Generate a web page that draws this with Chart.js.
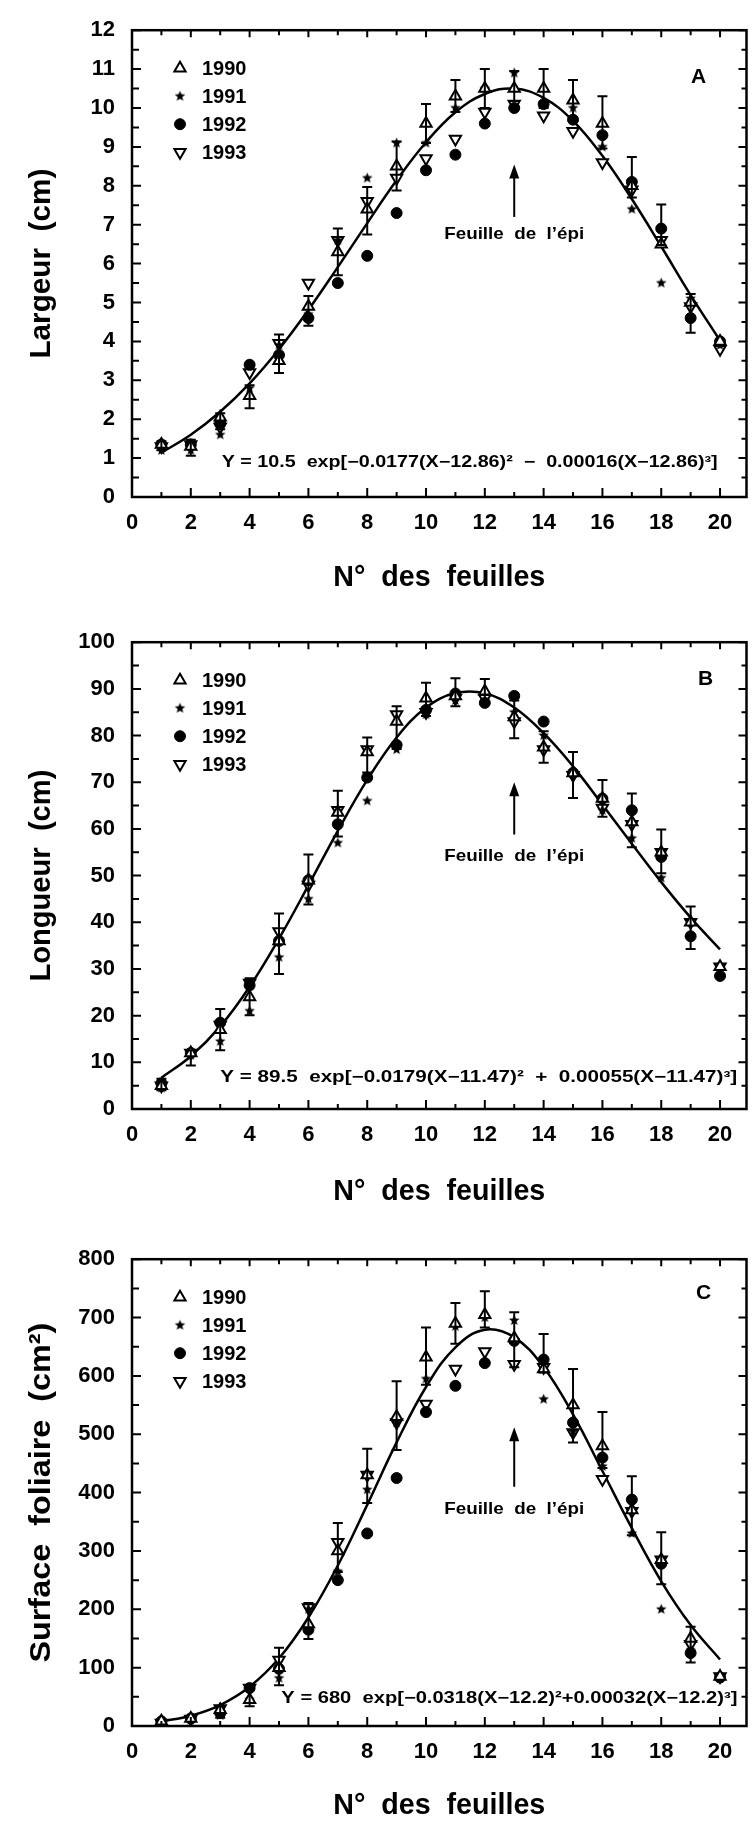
<!DOCTYPE html>
<html lang="fr">
<head>
<meta charset="utf-8">
<title>Largeur, longueur et surface des feuilles</title>
<script src="https://cdn.jsdelivr.net/npm/chart.js@4.4.1/dist/chart.umd.min.js"></script>
<style>
  html, body { margin: 0; padding: 0; background: #fff; }
  .panneau { position: absolute; left: 0; width: 755px; height: 602px; }
</style>
</head>
<body>
<div class="panneau" style="top:0px"><canvas id="grapheA"></canvas></div>
<div class="panneau" style="top:612px"><canvas id="grapheB"></canvas></div>
<div class="panneau" style="top:1229px"><canvas id="grapheC"></canvas></div>
<script>
const police = "'Liberation Sans', Arial, Helvetica, sans-serif";

// ================== Axe commun ==================
const feuilles = [1, 2, 3, 4, 5, 6, 7, 8, 9, 10, 11, 12, 13, 14, 15, 16, 17, 18, 19, 20];
const xTicks = [0, 2, 4, 6, 8, 10, 12, 14, 16, 18, 20];
const xMineurs = [1, 3, 5, 7, 9, 11, 13, 15, 17, 19];

// ================== A : largeur ==================
const largeurTicks = [0, 1, 2, 3, 4, 5, 6, 7, 8, 9, 10, 11, 12];
const largeurMineurs = [0.5, 1.5, 2.5, 3.5, 4.5, 5.5, 6.5, 7.5, 8.5, 9.5, 10.5, 11.5];
const largeur1990 = [1.35, 1.3, 2.05, 2.6, 3.5, 4.9, 6.3, 7.4, 8.5, 9.6, 10.3, 10.5, 10.5, 10.5, 10.2, 9.6, 8.0, 6.5, 5.0, 4.0];
const largeur1991 = [1.2, 1.2, 1.6, 2.8, 3.9, 4.7, 6.6, 8.2, 9.1, 9.1, 10.0, 10.5, 10.9, 10.1, 10.0, 9.0, 7.4, 5.5, 5.1, 3.9];
const largeur1992 = [1.35, 1.35, 1.9, 3.4, 3.65, 4.6, 5.5, 6.2, 7.3, 8.4, 8.8, 9.6, 10.0, 10.1, 9.7, 9.3, 8.1, 6.9, 4.6, 4.0];
const largeur1993 = [1.3, 1.35, 1.8, 3.2, 3.95, 5.5, 6.6, 7.6, 8.2, 8.7, 9.2, 9.9, 10.1, 9.8, 9.4, 8.6, 7.9, 6.6, 4.9, 3.8];
const largeurErrBas = [1.2, 1.06, 1.74, 2.28, 3.19, 4.4, 5.7, 6.75, 7.88, 9.1, 9.9, 10.0, 10.18, 10.0, 9.64, 8.96, 7.7, 6.48, 4.22, null];
const largeurErrHaut = [1.43, 1.47, 2.15, 2.87, 4.18, 5.17, 6.9, 7.97, 9.14, 10.1, 10.72, 11.0, 10.95, 11.0, 10.72, 10.3, 8.74, 7.52, 5.22, null];
const largeurCourbe = [1.14, 1.6, 2.19, 2.92, 3.8, 4.81, 5.91, 7.04, 8.14, 9.12, 9.89, 10.36, 10.5, 10.26, 9.67, 8.77, 7.66, 6.44, 5.19, 4.02];

// ================== B : longueur ==================
const longueurTicks = [0, 10, 20, 30, 40, 50, 60, 70, 80, 90, 100];
const longueurMineurs = [5, 15, 25, 35, 45, 55, 65, 75, 85, 95];
const longueur1990 = [5, 12, 17, 24, 36, 49, 63.5, 76.5, 83, 88, 88.5, 89.5, 84, 77.5, 72, 66.5, 61.5, 55, 40, 30.5];
const longueur1991 = [4.5, 11.5, 14.5, 21, 32.5, 45, 57, 66, 77, 84.5, 87.5, 87, 85, 80, 72, 64, 58, 49.5, 40, 30.5];
const longueur1992 = [5.5, 12, 18.5, 26.5, 36, 49, 61, 71, 78, 85.5, 89, 87, 88.5, 83, 72, 66.5, 64, 54, 37, 28.5];
const longueur1993 = [5, 12, 18, 27, 38, 48, 64, 77, 84.5, 85, 88, 88, 83, 77, 71.5, 64.5, 61, 55, 40, 30.5];
const longueurErrBas = [4, 9.3, 12.6, 20.1, 28.9, 43.8, 58.4, 72.1, 77.1, 84.2, 86.3, 87.1, 79.4, 74.2, 66.6, 62.6, 56.1, 50.5, 34.3, null];
const longueurErrHaut = [6.5, 12.6, 21.4, 28, 41.9, 54.5, 68.2, 79.6, 86.3, 91.3, 92.3, 92.1, 87.5, 80.9, 76.5, 70.5, 67.6, 59.9, 43.4, null];
const longueurCourbe = [6.7, 11.3, 17.7, 26.2, 36.5, 47.9, 59.6, 70.5, 79.6, 86.0, 89.1, 89.05, 86.0, 80.5, 73.4, 65.2, 56.8, 48.6, 41.0, 34.2];

// ================== C : surface foliaire ==================
const surfaceTicks = [0, 100, 200, 300, 400, 500, 600, 700, 800];
const surfaceMineurs = [50, 150, 250, 350, 450, 550, 650, 750];
const surface1990 = [8, 13, 28, 45, 100, 175, 300, 430, 530, 632, 690, 705, 665, 612, 550, 480, 370, 285, 150, 85];
const surface1991 = [6, 10, 18, 45, 82, 200, 265, 405, 520, 595, 685, 700, 695, 560, 505, 445, 330, 200, 130, 87];
const surface1992 = [8, 13, 22, 65, 98, 165, 250, 330, 425, 538, 583, 622, 660, 628, 520, 460, 388, 278, 125, 83];
const surface1993 = [5, 12, 30, 65, 113, 203, 315, 430, 520, 552, 612, 642, 620, 615, 503, 423, 368, 285, 140, 85];
const surfaceErrBas = [null, null, 14, 34, 70, 149, 264, 382, 473, 585, 655, 683, 615, 606, 486, 442, 327, 243, 109, null];
const surfaceErrHaut = [null, null, 34, 70, 134, 211, 348, 475, 591, 683, 725, 745, 709, 672, 612, 538, 428, 332, 170, null];
const surfaceCourbe = [8, 17.7, 35.9, 67.2, 116, 186, 275, 379, 486, 581, 649, 679, 666, 615, 534, 437, 339, 248, 173, 114];

// ================== Symboles ==================
function etoile(r) {
  const c = document.createElement('canvas');
  const s = Math.ceil(r * 2 + 2);
  c.width = s; c.height = s;
  const g = c.getContext('2d');
  g.fillStyle = '#000';
  g.beginPath();
  for (let i = 0; i < 10; i++) {
    const rr = i % 2 ? r * 0.45 : r;
    const ang = -Math.PI / 2 + i * Math.PI / 5;
    g.lineTo(s / 2 + rr * Math.cos(ang), s / 2 + rr * Math.sin(ang));
  }
  g.closePath();
  g.fill();
  return c;
}
const imgEtoile = etoile(5.5);

// texte étiré / comprimé pour tenir dans une largeur donnée
function texteAjuste(ctx, txt, x, y, largeur, angle = 0) {
  const w = ctx.measureText(txt).width;
  ctx.save();
  ctx.translate(x, y);
  ctx.rotate(angle);
  ctx.scale(largeur / w, 1);
  ctx.fillText(txt, 0, 0);
  ctx.restore();
}

// ================== Habillage (cadre, barres, notes) ==================
function habillage(p) {
  return {
    id: 'habillage' + p.lettre,
    afterDatasetsDraw(chart) {
      const { ctx, chartArea: a, scales: { x, y } } = chart;
      ctx.save();
      ctx.strokeStyle = '#000';
      ctx.fillStyle = '#000';

      // barres d'erreur
      ctx.lineWidth = 2;
      ctx.beginPath();
      feuilles.forEach((f, i) => {
        if (p.basse[i] == null) return;
        const px = x.getPixelForValue(f);
        const y1 = y.getPixelForValue(p.basse[i]);
        const y2 = y.getPixelForValue(p.haute[i]);
        ctx.moveTo(px, y1); ctx.lineTo(px, y2);
        ctx.moveTo(px - 5, y1); ctx.lineTo(px + 5, y1);
        ctx.moveTo(px - 5, y2); ctx.lineTo(px + 5, y2);
      });
      ctx.stroke();

      // graduations intérieures
      ctx.lineWidth = 2;
      ctx.beginPath();
      xTicks.forEach(v => {
        const px = x.getPixelForValue(v);
        ctx.moveTo(px, a.bottom); ctx.lineTo(px, a.bottom - 9);
        ctx.moveTo(px, a.top); ctx.lineTo(px, a.top + 7);
      });
      xMineurs.forEach(v => {
        const px = x.getPixelForValue(v);
        ctx.moveTo(px, a.bottom); ctx.lineTo(px, a.bottom - 5);
        ctx.moveTo(px, a.top); ctx.lineTo(px, a.top + 5);
      });
      p.yTicks.forEach(v => {
        const py = y.getPixelForValue(v);
        ctx.moveTo(a.left, py); ctx.lineTo(a.left + 9, py);
        ctx.moveTo(a.right, py); ctx.lineTo(a.right - 8, py);
      });
      p.yMineurs.forEach(v => {
        const py = y.getPixelForValue(v);
        ctx.moveTo(a.left, py); ctx.lineTo(a.left + 7, py);
        ctx.moveTo(a.right, py); ctx.lineTo(a.right - 5, py);
      });
      ctx.stroke();
      ctx.lineWidth = 2.5;
      ctx.strokeRect(a.left, a.top, a.right - a.left, a.bottom - a.top);

      // légende
      chart.data.datasets.slice(0, 4).forEach((ds, i) => {
        const ly = a.top + 38 + i * 28;
        ctx.fillStyle = ds.backgroundColor;
        ctx.strokeStyle = ds.borderColor;
        ctx.lineWidth = ds.borderWidth;
        Chart.helpers.drawPoint(ctx, {
          pointStyle: ds.pointStyle, rotation: ds.pointRotation || 0,
          radius: ds.pointRadius, borderWidth: ds.borderWidth
        }, a.left + 48, ly);
        ctx.fillStyle = '#000';
        ctx.font = `bold 20px ${police}`;
        ctx.textAlign = 'left';
        ctx.textBaseline = 'middle';
        ctx.fillText(ds.label, a.left + 70, ly + 1);
      });

      // lettre du panneau
      ctx.font = `bold 21px ${police}`;
      ctx.textAlign = 'center';
      ctx.textBaseline = 'middle';
      ctx.fillText(p.lettre, a.right + p.lettreDx, a.top + p.lettreDy);

      // flèche "Feuille de l'épi"
      const fx = x.getPixelForValue(p.fleche.x);
      const tete = y.getPixelForValue(p.fleche.tete);
      const queue = y.getPixelForValue(p.fleche.queue);
      ctx.strokeStyle = '#000';
      ctx.lineWidth = 2;
      ctx.beginPath();
      ctx.moveTo(fx, queue); ctx.lineTo(fx, tete + 10);
      ctx.stroke();
      ctx.beginPath();
      ctx.moveTo(fx, tete); ctx.lineTo(fx - 5, tete + 14); ctx.lineTo(fx + 5, tete + 14);
      ctx.closePath();
      ctx.fill();
      ctx.font = `bold 17px ${police}`;
      texteAjuste(ctx, 'Feuille  de  l’épi', fx, y.getPixelForValue(p.fleche.texte), 140);

      // équation de l'ajustement
      ctx.font = `bold 16px ${police}`;
      ctx.textAlign = 'left';
      texteAjuste(ctx, p.equation.texte, x.getPixelForValue(p.equation.x),
        y.getPixelForValue(p.equation.y), p.equation.largeur);

      // titres des axes
      ctx.textAlign = 'center';
      ctx.font = `bold 30px ${police}`;
      texteAjuste(ctx, p.titreY, 42, (a.top + a.bottom) / 2, p.largeurTitreY, -Math.PI / 2);
      ctx.font = `bold 29px ${police}`;
      texteAjuste(ctx, 'N°  des  feuilles', (a.left + a.right) / 2, p.titreXY, 212);
      ctx.restore();
    }
  };
}

// ================== Construction d'un panneau ==================
function tracerPanneau(p) {
  const serie = vals => feuilles.map((f, i) => ({ x: f, y: vals[i] }));
  const ticksFixes = vals => s => { s.ticks = vals.map(v => ({ value: v })); };
  const fonteTicks = { family: police, size: 22, weight: 'bold' };

  return new Chart(document.getElementById(p.id), {
    type: 'scatter',
    data: {
      datasets: [
        { label: '1990', data: serie(p.series[0]), pointStyle: 'triangle', pointRadius: 6.5,
          backgroundColor: '#fff', borderColor: '#000', borderWidth: 2 },
        { label: '1991', data: serie(p.series[1]), pointStyle: imgEtoile, pointRadius: 6,
          backgroundColor: '#000', borderColor: '#000', borderWidth: 0 },
        { label: '1992', data: serie(p.series[2]), pointStyle: 'circle', pointRadius: 5.5,
          backgroundColor: '#000', borderColor: '#000', borderWidth: 1 },
        { label: '1993', data: serie(p.series[3]), pointStyle: 'triangle', pointRotation: 180, pointRadius: 6.5,
          backgroundColor: '#fff', borderColor: '#000', borderWidth: 2 },
        { type: 'line', label: 'ajustement', data: serie(p.courbe), borderColor: '#000', borderWidth: 2.5,
          pointRadius: 0, tension: 0.4, fill: false }
      ]
    },
    options: {
      responsive: true,
      maintainAspectRatio: false,
      animation: false,
      layout: { padding: { top: 24, right: 7, left: 0, bottom: 0 } },
      plugins: { legend: { display: false }, tooltip: { enabled: false } },
      scales: {
        x: {
          type: 'linear', min: 0, max: 20.9,
          afterBuildTicks: ticksFixes(xTicks),
          afterFit: s => { s.height = 105; },
          grid: { display: false, drawTicks: false },
          border: { display: false },
          ticks: { color: '#000', font: fonteTicks, padding: 13, maxRotation: 0, autoSkip: false }
        },
        y: {
          type: 'linear', min: 0, max: p.yMax,
          afterBuildTicks: ticksFixes(p.yTicks),
          afterFit: s => { s.width = 132; },
          grid: { display: false, drawTicks: false },
          border: { display: false },
          ticks: { color: '#000', font: fonteTicks, padding: 17, autoSkip: false }
        }
      }
    },
    plugins: [habillage(p)]
  });
}

tracerPanneau({
  id: 'grapheA', lettre: 'A', lettreDx: -48, lettreDy: 47,
  yMax: 12, yTicks: largeurTicks, yMineurs: largeurMineurs,
  series: [largeur1990, largeur1991, largeur1992, largeur1993],
  basse: largeurErrBas, haute: largeurErrHaut, courbe: largeurCourbe,
  titreY: 'Largeur  (cm)', largeurTitreY: 190, titreXY: 578,
  fleche: { x: 13, tete: 8.55, queue: 7.2, texte: 6.75 },
  equation: { texte: 'Y = 10.5  exp[−0.0177(X−12.86)²  −  0.00016(X−12.86)³]', x: 3.05, y: 0.89, largeur: 496 }
});

tracerPanneau({
  id: 'grapheB', lettre: 'B', lettreDx: -41, lettreDy: 37,
  yMax: 100, yTicks: longueurTicks, yMineurs: longueurMineurs,
  series: [longueur1990, longueur1991, longueur1992, longueur1993],
  basse: longueurErrBas, haute: longueurErrHaut, courbe: longueurCourbe,
  titreY: 'Longueur  (cm)', largeurTitreY: 212, titreXY: 580,
  fleche: { x: 13, tete: 70, queue: 58.8, texte: 54.2 },
  equation: { texte: 'Y = 89.5  exp[−0.0179(X−11.47)²  +  0.00055(X−11.47)³]', x: 3.0, y: 6.75, largeur: 517 }
});

tracerPanneau({
  id: 'grapheC', lettre: 'C', lettreDx: -43, lettreDy: 34,
  yMax: 800, yTicks: surfaceTicks, yMineurs: surfaceMineurs,
  series: [surface1990, surface1991, surface1992, surface1993],
  basse: surfaceErrBas, haute: surfaceErrHaut, courbe: surfaceCourbe,
  titreY: 'Surface  foliaire  (cm²)', largeurTitreY: 340, titreXY: 577,
  fleche: { x: 13, tete: 512, queue: 410, texte: 372 },
  equation: { texte: 'Y = 680  exp[−0.0318(X−12.2)²+0.00032(X−12.2)³]', x: 5.08, y: 47, largeur: 456 }
});
</script>
</body>
</html>
